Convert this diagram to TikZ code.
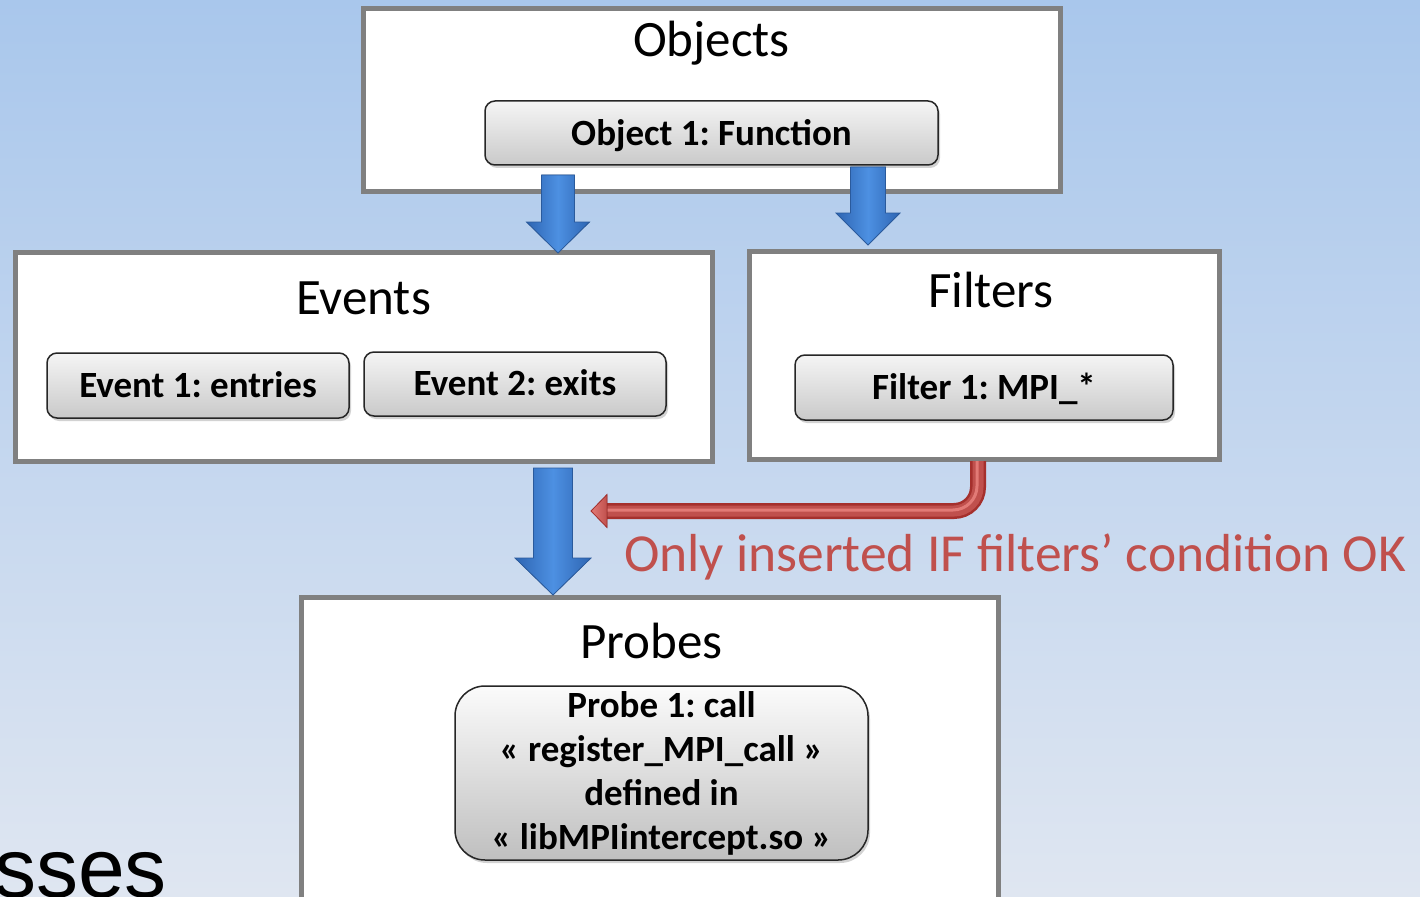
\documentclass[tikz,border=0pt]{standalone}
\usepackage{fontspec}
\setmainfont{Carlito}
\newfontfamily\slidefont{Liberation Sans}
\usetikzlibrary{calc,shadows}
\frenchspacing

\definecolor{bgtop}{HTML}{A9C7EC}
\definecolor{bgbot}{HTML}{DFE6F1}
\definecolor{frame}{HTML}{808080}
\definecolor{blueedge}{HTML}{2A5A9C}
\definecolor{bluedark}{HTML}{2E65B2}
\definecolor{bluelight}{HTML}{4D90E2}
\definecolor{redmain}{HTML}{C0504D}
\definecolor{reddark}{HTML}{A5302D}
\definecolor{redlight}{HTML}{E27A76}

\tikzset{
  panel/.style={draw=frame, line width=5pt, fill=white, inner sep=0pt,
    outer sep=0pt, anchor=north west},
  paneltitle/.style={font=\fontsize{51}{60}\selectfont, inner sep=0pt},
  item/.style={draw=black!85, line width=1.5pt, rounded corners=10pt,
    top color=gray!8, bottom color=gray!42, inner sep=0pt, outer sep=0pt,
    font=\fontsize{37}{44}\selectfont\bfseries, anchor=north west,
    drop shadow={shadow xshift=2pt, shadow yshift=-3pt, opacity=0.35}},
  note/.style={text=redmain, font=\fontsize{53.5}{60}\selectfont, inner sep=0pt},
}

% vertical block arrow: start, tip, shaft half-width, head half-width, head length
\newcommand\blockarrowdown[5]{%
  \fill[left color=bluedark, right color=bluedark, middle color=bluelight,
        draw=blueedge, line width=0.8pt, line join=miter]
    ($(#1)+(-#3,0)$) -- ($(#1)+(#3,0)$) -- ($(#2)+(#3,-#5)$)
    -- ($(#2)+(#4,-#5)$) -- (#2) -- ($(#2)+(-#4,-#5)$)
    -- ($(#2)+(-#3,-#5)$) -- cycle;}

\begin{document}
\begin{tikzpicture}[x=1pt, y=-1pt]
  \useasboundingbox (0,0) rectangle (1420,896);
  \clip (0,0) rectangle (1420,896);
  \fill[top color=bgtop, bottom color=bgbot] (0,0) rectangle (1420,896);

  % panels
  \node[panel, minimum width=697pt, minimum height=182pt] (objects) at (363,9) {};
  \node[paneltitle] (objtitle) at ($(objects.north)+(0,34)$) {Objects};

  \node[panel, minimum width=697pt, minimum height=209pt] (events) at (15,252) {};
  \node[paneltitle] (evtitle) at ($(events.north)+(0,46)$) {Events};

  \node[panel, minimum width=470pt, minimum height=208pt] (filters) at (749,251) {};
  \node[paneltitle] (ftitle) at ($(filters.north)+(7,39)$) {Filters};

  \node[panel, minimum width=697pt, minimum height=330pt] (probes) at (301,597) {};
  \node[paneltitle] (ptitle) at ($(probes.north)+(2,44)$) {Probes};

  % items
  \node[item, minimum width=453pt, minimum height=64pt, text depth=2pt] (obj1) at (485,101) {Object 1: Function};
  \node[item, minimum width=302pt, minimum height=65pt, text depth=2pt] (ev1) at (47,353) {Event 1: entries};
  \node[item, minimum width=302pt, minimum height=64pt, text depth=2pt] (ev2) at (364,352) {Event 2: exits};
  \node[item, minimum width=378pt, minimum height=65pt, text depth=2pt] (f1) at (795,355) {Filter 1: MPI\_*};
  \node[item, rounded corners=30pt, minimum width=413pt, minimum height=174pt,
        align=center, top color=gray!3, bottom color=gray!50] (p1) at (455,686)
        {Probe 1: call\\« register\_MPI\_call »\\defined in\\« libMPIintercept.so »};

  % blue flow arrows
  \coordinate (a1s) at ($(obj1.south -| 558,0)+(0,10)$);
  \coordinate (a1e) at ($(events.north -| 558,0)+(0,1)$);
  \blockarrowdown{a1s}{a1e}{16.5}{31.5}{31}

  \coordinate (a2s) at ($(obj1.south -| 868,0)+(0,2)$);
  \coordinate (a2e) at ($(filters.north -| 868,0)+(0,-6)$);
  \blockarrowdown{a2s}{a2e}{17.5}{32}{32}

  \coordinate (a3s) at ($(events.south -| 553,0)+(0,7)$);
  \coordinate (a3e) at ($(probes.north -| 553,0)+(0,-2)$);
  \blockarrowdown{a3s}{a3e}{19.5}{38}{37}

  % red condition arrow from the filters panel
  \coordinate (rs) at ($(filters.south -| 978,0)+(0,2)$);
  \coordinate (re) at ($(a3s)+(38,43)$);
  \draw[reddark, line width=16pt, rounded corners=24pt] (rs) |- ($(re)+(15,0)$);
  \draw[redmain, line width=11pt, rounded corners=24pt] (rs) |- ($(re)+(15,0)$);
  \draw[redlight, line width=3pt, rounded corners=24pt] ($(rs)+(-1,0)$) |- ($(re)+(15,-1)$);
  \fill[left color=redlight, right color=redmain, draw=reddark, line width=0.8pt]
    (re) -- ($(re)+(16,-16.5)$) -- ($(re)+(16,16.5)$) -- cycle;

  \node[note, anchor=west] (cond) at (624,557) {Only inserted IF filters’ condition OK};

  % slide text behind the diagram
  \node[anchor=base west, inner sep=0pt, font=\slidefont\fontsize{84}{90}\selectfont] (slide) at (-6,897) {sses};
\end{tikzpicture}
\end{document}
